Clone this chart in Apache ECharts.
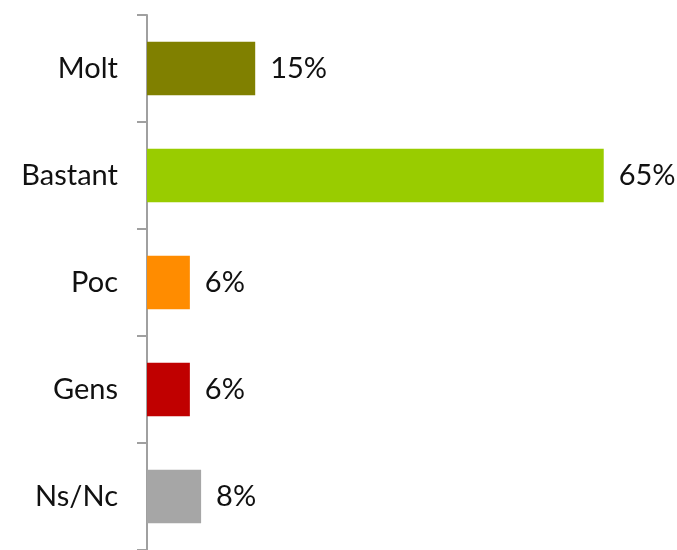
<!DOCTYPE html>
<html>
<head>
<meta charset="utf-8" />
<title>Bar chart</title>
<script type="text/javascript" src="https://cdn.jsdelivr.net/npm/echarts@6/dist/echarts.min.js"></script>
</head>
<body style="margin:0;background-color:white;">
<div id="main" style="width:677px;height:550px;background-color:white;"></div>
<script type="text/javascript">
// categories from top to bottom
var categories = ['Molt', 'Bastant', 'Poc', 'Gens', 'Ns/Nc'];
var values = [15.4, 65, 6.1, 6.1, 7.7];
var barColors = ['#808000', '#99CC00', '#FF8C00', '#C00000', '#A6A6A6'];

var myChart = echarts.init(document.getElementById('main'));

var barData = [];
for (var i = 0; i < values.length; i++) {
    barData.push({ value: values[i], itemStyle: { color: barColors[i] } });
}

myChart.setOption({
    animation: false,
    textStyle: { fontFamily: 'Lato' },
    grid: { left: 147, top: 15, width: 527, height: 538, containLabel: false },
    xAxis: {
        type: 'value',
        min: 0,
        max: 75,
        show: false
    },
    yAxis: {
        type: 'category',
        inverse: true,
        data: categories,
        axisLine: { show: true, lineStyle: { color: '#A0A0A0', width: 2 } },
        axisTick: { show: true, length: 10, lineStyle: { color: '#A0A0A0', width: 2 } },
        axisLabel: { color: '#111', fontSize: 29, margin: 29, fontFamily: 'Lato' },
        splitLine: { show: false }
    },
    series: [{
        type: 'bar',
        data: barData,
        barWidth: '50%',
        label: {
            show: true,
            position: 'right',
            distance: 15,
            color: '#111',
            fontSize: 29,
            fontFamily: 'Lato',
            formatter: function (p) { return Math.round(p.value) + '%'; }
        }
    }]
});
</script>
</body>
</html>
